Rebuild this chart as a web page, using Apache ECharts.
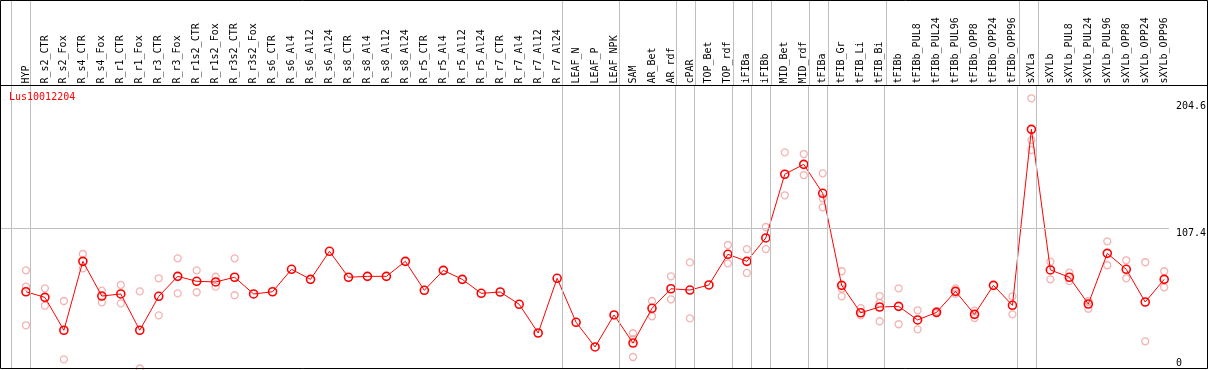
<!DOCTYPE html>
<html><head><meta charset="utf-8">
<script src="https://cdn.jsdelivr.net/npm/echarts@6/dist/echarts.min.js"></script>
<style>html,body{margin:0;padding:0;background:#fff}#c{width:1209px;height:370px}</style>
</head><body><div id="c"></div>
<script>
const categories = ['HYP','R_s2_CTR','R_s2_Fox','R_s4_CTR','R_s4_Fox','R_r1_CTR','R_r1_Fox','R_r3_CTR','R_r3_Fox','R_r1s2_CTR','R_r1s2_Fox','R_r3s2_CTR','R_r3s2_Fox','R_s6_CTR','R_s6_Al4','R_s6_Al12','R_s6_Al24','R_s8_CTR','R_s8_Al4','R_s8_Al12','R_s8_Al24','R_r5_CTR','R_r5_Al4','R_r5_Al12','R_r5_Al24','R_r7_CTR','R_r7_Al4','R_r7_Al12','R_r7_Al24','LEAF_N','LEAF_P','LEAF_NPK','SAM','AR_Bet','AR_rdf','cPAR','TOP_Bet','TOP_rdf','iFIBa','iFIBb','MID_Bet','MID_rdf','tFIBa','tFIB_Gr','tFIB_Li','tFIB_Bi','tFIBb','tFIBb_PUL8','tFIBb_PUL24','tFIBb_PUL96','tFIBb_OPP8','tFIBb_OPP24','tFIBb_OPP96','sXYLa','sXYLb','sXYLb_PUL8','sXYLb_PUL24','sXYLb_PUL96','sXYLb_OPP8','sXYLb_OPP24','sXYLb_OPP96'];
const means = [58.8,54.5,29.3,82.1,55.5,57.1,29.3,55.3,70.6,66.8,
  66.3,69.9,57.1,58.8,76.0,68.3,89.8,69.9,70.6,70.6,
  82.1,59.9,75.2,68.3,57.6,58.6,49.2,27.2,69.1,35.4,
  16.5,41.0,19.5,46.1,61.1,60.1,64.0,87.5,82.1,100.0,
  148.8,156.4,134.2,63.7,42.7,47.1,47.6,37.2,43.0,59.1,
  41.5,63.7,48.4,183.2,75.5,69.9,49.4,88.2,76.0,50.9,68.3];
const replicates = [
  [75.2,62.7,33.1],[61.4,48.1],[51.7,7.0],[87.7,76.7],[59.6,50.7],
  [64.0,49.9],[59.1,0.0],[69.1,40.7],[84.4,57.6],[75.2,58.4],
  [70.3,62.7],[84.4,56.1],[],[],[],[],[],[],[],[],
  [],[],[],[],[],[],[],[],[],[],
  [],[],[27.0,22.4,8.8],[51.7,40.0],[70.6,53.0],[81.3,38.4],[],[94.6,80.6],[91.5,73.2],[108.4,91.5],
  [165.6,132.7],[164.3,148.2],[149.5,130.4,123.5],[74.5,61.1,55.3],[46.3,40.7],[55.5,50.2,36.2],[61.4,33.9],[44.6,30.0],[44.0,42.2],[61.4,57.3],
  [44.3,38.7],[],[55.3,41.5],[207.0,175.0,167.4],[81.8,68.3],[73.4,67.0],[51.7,45.8],[97.4,79.1],[82.9,69.1],[81.4,20.8],[74.5,62.2]
];
const groupEnds = [-1,0,28,31,34,35,37,38,39,41,42,45,52,53,60];
const yTickValues = [107.4, 204.6];
const yZeroTick = [0];
const geneName = 'Lus10012204';

const FONT = 'DejaVu Sans Mono';
const X_MIN = -1.3147, X_MAX = 60.247, Y_MAX = 216.8, SEP = 0.247;

const chart = echarts.init(document.getElementById('c'), null, {renderer:'canvas'});
const meanData = means.map((v,i)=>[i,v]);
const repData = [];
replicates.forEach((arr,i)=>arr.forEach(v=>repData.push([i,v])));
const vLines = groupEnds.map(k=>({xAxis:k+SEP}));
const gridLineStyle = {color:'#c0c0c0', width:1, type:'solid'};

const option = {
  animation:false,
  title:{text:geneName, left:9, top:92, padding:0,
    textStyle:{color:'#ff0000', fontFamily:FONT, fontSize:10, fontWeight:'normal'}},
  grid:[{left:1, right:38.3, top:85.5, bottom:1.5},{left:1, right:38.3, top:0, height:85.5}],
  xAxis:[
    {type:'value', gridIndex:0, position:'top', min:X_MIN, max:X_MAX,
      axisLine:{show:false}, axisTick:{show:false}, splitLine:{show:false},
      axisLabel:{show:true, customValues:categories.map((c,i)=>i), rotate:90, margin:2,
        formatter:v=>categories[Math.round(v)] || '', color:'#000', fontFamily:FONT, fontSize:10}},
    {type:'value', gridIndex:1, min:X_MIN, max:X_MAX, show:false}
  ],
  yAxis:[
    {type:'value', gridIndex:0, position:'right', min:0, max:Y_MAX,
      axisLine:{show:false}, axisTick:{show:false}, splitLine:{show:false},
      axisLabel:{customValues:yTickValues, verticalAlign:'top', margin:7, color:'#000', fontFamily:FONT, fontSize:10}},
    {type:'value', gridIndex:0, position:'right', min:0, max:Y_MAX,
      axisLine:{show:false}, axisTick:{show:false}, splitLine:{show:false},
      axisLabel:{customValues:yZeroTick, verticalAlign:'bottom', margin:7, color:'#000', fontFamily:FONT, fontSize:10}},
    {type:'value', gridIndex:1, min:0, max:1, show:false}
  ],
  series:[
    {type:'line', xAxisIndex:0, yAxisIndex:0, data:[], z:1, silent:true,
      markLine:{silent:true, symbol:['none','none'], label:{show:false}, lineStyle:gridLineStyle,
        emphasis:{disabled:true}, data:[...vLines, {yAxis:yTickValues[0]}]}},
    {type:'line', xAxisIndex:1, yAxisIndex:2, data:[], z:1, silent:true,
      markLine:{silent:true, symbol:['none','none'], label:{show:false}, lineStyle:gridLineStyle,
        emphasis:{disabled:true}, data:vLines}},
    {type:'scatter', xAxisIndex:0, yAxisIndex:0, data:repData, z:2, silent:true,
      symbol:'circle', symbolSize:7,
      itemStyle:{color:'rgba(0,0,0,0)', borderColor:'#f0a0a0', borderWidth:1.3}},
    {type:'line', xAxisIndex:0, yAxisIndex:0, data:meanData, z:3, silent:true,
      symbol:'circle', symbolSize:8, showAllSymbol:true,
      itemStyle:{color:'rgba(0,0,0,0)', borderColor:'#ff0000', borderWidth:1.6},
      lineStyle:{color:'#ff0000', width:1}}
  ],
  graphic:[
    {type:'rect', silent:true, z:100, shape:{x:0.5, y:0.5, width:1207, height:368},
      style:{fill:'none', stroke:'#000', lineWidth:1}},
    {type:'line', silent:true, z:100, shape:{x1:0, y1:85.5, x2:1208, y2:85.5},
      style:{stroke:'#000', lineWidth:1}}
  ]
};
chart.setOption(option);
</script></body></html>
